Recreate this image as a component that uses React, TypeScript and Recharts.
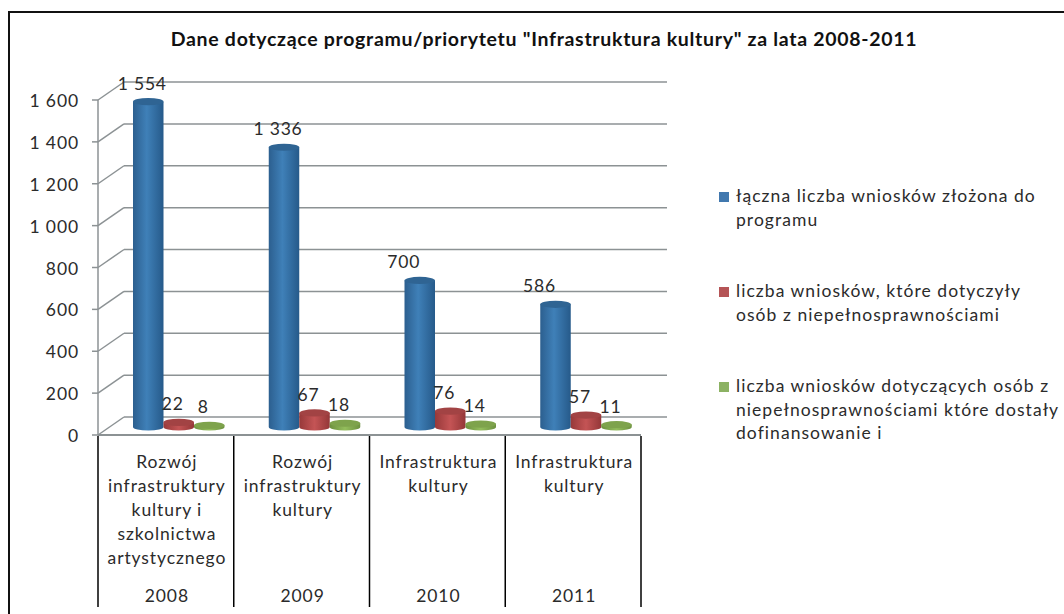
import { BarChart, Bar, XAxis, YAxis, CartesianGrid, LabelList, Legend } from "recharts";

const categoryLines = [
  ["Rozwój", "infrastruktury", "kultury i", "szkolnictwa", "artystycznego"],
  ["Rozwój", "infrastruktury", "kultury"],
  ["Infrastruktura", "kultury"],
  ["Infrastruktura", "kultury"],
];
const years = ["2008", "2009", "2010", "2011"];
const totalApplications = [1554, 1336, 700, 586];
const disabilityApplications = [22, 67, 76, 57];
const fundedApplications = [8, 18, 14, 11];
const yTicks = [0, 200, 400, 600, 800, 1000, 1200, 1400, 1600];

const chartData = years.map((year, i) => ({
  year,
  lines: categoryLines[i],
  total: totalApplications[i],
  disability: disabilityApplications[i],
  funded: fundedApplications[i],
}));

const FONT = "Lato, sans-serif";
const TEXT = "#2b2b2b";
const WIDTH = 1064;
const HEIGHT = 614;
const PLOT = { left: 98, right: 641, top: 100, bottom: 435 };
// fake 3d depth of the floor and side wall
const DEPTH_X = 26;
const DEPTH_Y = 18;
const BAR_LIFT = 8;
const BAND = (PLOT.right - PLOT.left) / years.length;

const formatPl = (v: number) => String(v).replace(/\B(?=(\d{3})+$)/g, " ");

function Cylinder(props: any) {
  const { x, y, width, height, gradient, cap } = props;
  const rx = width / 2;
  const ry = 3.6;
  const cx = x + DEPTH_X / 2 + rx;
  const top = y - BAR_LIFT;
  const bottom = y + height - BAR_LIFT;
  return (
    <g>
      <path
        d={`M${cx - rx},${top} L${cx - rx},${bottom} A${rx},${ry} 0 0 0 ${cx + rx},${bottom} L${cx + rx},${top} Z`}
        fill={`url(#${gradient})`}
      />
      <ellipse cx={cx} cy={top} rx={rx} ry={ry} fill={cap} />
    </g>
  );
}

function GridLine(props: any) {
  const { x1, x2, y1 } = props;
  return (
    <g>
      <line x1={x1} y1={y1} x2={x1 + DEPTH_X} y2={y1 - DEPTH_Y} stroke="#8c9294" strokeWidth={1.5} />
      <line x1={x1 + DEPTH_X} y1={y1 - DEPTH_Y} x2={x2 + DEPTH_X} y2={y1 - DEPTH_Y} stroke="#8c9294" strokeWidth={1.5} />
    </g>
  );
}

function CategoryTick(props: any) {
  const { x, payload, index } = props;
  const row = chartData[index];
  const left = x - BAND / 2;
  const right = x + BAND / 2;
  return (
    <g fontFamily={FONT} fontSize={17.5} fill={TEXT} textAnchor="middle">
      <line x1={left} y1={PLOT.bottom + 1} x2={left} y2={607} stroke="#000" strokeWidth={1.5} />
      {index === years.length - 1 && (
        <line x1={right} y1={PLOT.bottom + 1} x2={right} y2={607} stroke="#000" strokeWidth={1.5} />
      )}
      {row.lines.map((line: string, i: number) => (
        <text key={line + i} x={x + 1} y={PLOT.bottom + 33 + i * 24} letterSpacing={0.9}>
          {line}
        </text>
      ))}
      <text x={x + 1} y={PLOT.bottom + 167} letterSpacing={0.9}>
        {payload.value}
      </text>
    </g>
  );
}

function ValueTick(props: any) {
  const { x, y, payload } = props;
  return (
    <text x={x - 11} y={y + 7} textAnchor="end" fontFamily={FONT} fontSize={17.5} fill={TEXT} letterSpacing={0.9}>
      {formatPl(payload.value)}
    </text>
  );
}

function ValueLabel(props: any) {
  const { x, y, width, value } = props;
  // the three digit totals sit further left of their bar in the original
  const shift = value >= 100 && value < 1000 ? -16 : -6;
  return (
    <text
      x={x + width / 2 + DEPTH_X / 2 + shift}
      y={y - DEPTH_Y / 2 - 11}
      textAnchor="middle"
      fontFamily={FONT}
      fontSize={17.5}
      fill={TEXT}
      letterSpacing={0.8}
    >
      {formatPl(value)}
    </text>
  );
}

const legendNames: Record<string, string[]> = {
  total: ["łączna liczba wniosków złożona do", "programu"],
  disability: ["liczba wniosków, które dotyczyły", "osób z niepełnosprawnościami"],
  funded: ["liczba wniosków dotyczących osób z", "niepełnosprawnościami które dostały", "dofinansowanie i"],
};

function LegendBlock(props: any) {
  return (
    <div style={{ fontFamily: FONT, fontSize: 17.5, color: TEXT, letterSpacing: 1.05 }}>
      {props.payload.map((entry: any, i: number) => (
        <div key={entry.dataKey} style={{ position: "absolute", left: 0, top: i * 95, display: "flex" }}>
          <div style={{ width: 10, height: 10, marginTop: 8, marginRight: 7, background: entry.color }} />
          <div style={{ lineHeight: "23.5px", whiteSpace: "nowrap" }}>
            {legendNames[entry.dataKey].map((line) => (
              <div key={line}>{line}</div>
            ))}
          </div>
        </div>
      ))}
    </div>
  );
}

export default function App() {
  return (
    <div style={{ position: "absolute", left: 0, top: 0, width: WIDTH, height: HEIGHT, background: "#fff", overflow: "hidden" }}>
      <div style={{ position: "absolute", left: 8, top: 11, width: WIDTH, height: HEIGHT, border: "2px solid #111", boxSizing: "border-box" }} />
      <BarChart
        width={WIDTH}
        height={HEIGHT}
        data={chartData}
        barSize={30.5}
        barGap={0}
        margin={{ left: 0, right: WIDTH - PLOT.right, top: PLOT.top, bottom: 0 }}
        style={{ position: "absolute", left: 0, top: 0 }}
      >
        <defs>
          <linearGradient id="cylBlue" x1="0" x2="1" y1="0" y2="0">
            <stop offset="0" stopColor="#2c5f8f" />
            <stop offset="0.45" stopColor="#3f80b8" />
            <stop offset="1" stopColor="#265a8a" />
          </linearGradient>
          <linearGradient id="cylRed" x1="0" x2="1" y1="0" y2="0">
            <stop offset="0" stopColor="#97393a" />
            <stop offset="0.5" stopColor="#c45455" />
            <stop offset="1" stopColor="#943738" />
          </linearGradient>
          <linearGradient id="cylGreen" x1="0" x2="1" y1="0" y2="0">
            <stop offset="0" stopColor="#6d9140" />
            <stop offset="0.5" stopColor="#93bd5c" />
            <stop offset="1" stopColor="#6d9140" />
          </linearGradient>
        </defs>
        <text x={544} y={46} textAnchor="middle" fontFamily={FONT} fontWeight={700} fontSize={19.5} letterSpacing={0.7} fill="#111">
          {'Dane dotyczące programu/priorytetu "Infrastruktura kultury" za lata 2008-2011'}
        </text>
        <CartesianGrid vertical={false} horizontal={(p: any) => <GridLine key={p.key} {...p} />} />
        <XAxis
          dataKey="year"
          interval={0}
          axisLine={{ stroke: "#8c9294", strokeWidth: 2 }}
          tickLine={false}
          tick={(p: any) => <CategoryTick {...p} />}
          height={HEIGHT - PLOT.bottom}
        />
        <YAxis
          domain={[0, 1600]}
          ticks={yTicks}
          interval={0}
          width={PLOT.left}
          axisLine={{ stroke: "#8c9294", strokeWidth: 1.5 }}
          tickLine={{ stroke: "#8c9294", strokeWidth: 1.5 }}
          tickSize={6}
          tick={(p: any) => <ValueTick {...p} />}
        />
        <Legend
          layout="vertical"
          verticalAlign="top"
          align="right"
          itemSorter={null}
          content={(p: any) => <LegendBlock {...p} />}
          wrapperStyle={{ position: "absolute", left: 719, top: 184, width: 0, height: 0 }}
        />
        <Bar dataKey="total" fill="#4178ae" isAnimationActive={false} shape={(p: any) => <Cylinder {...p} gradient="cylBlue" cap="#2f6493" />}>
          <LabelList dataKey="total" content={(p: any) => <ValueLabel {...p} />} />
        </Bar>
        <Bar dataKey="disability" fill="#b55456" isAnimationActive={false} shape={(p: any) => <Cylinder {...p} gradient="cylRed" cap="#a24344" />}>
          <LabelList dataKey="disability" content={(p: any) => <ValueLabel {...p} />} />
        </Bar>
        <Bar dataKey="funded" fill="#8cb263" isAnimationActive={false} shape={(p: any) => <Cylinder {...p} gradient="cylGreen" cap="#7ea34c" />}>
          <LabelList dataKey="funded" content={(p: any) => <ValueLabel {...p} />} />
        </Bar>
      </BarChart>
    </div>
  );
}
